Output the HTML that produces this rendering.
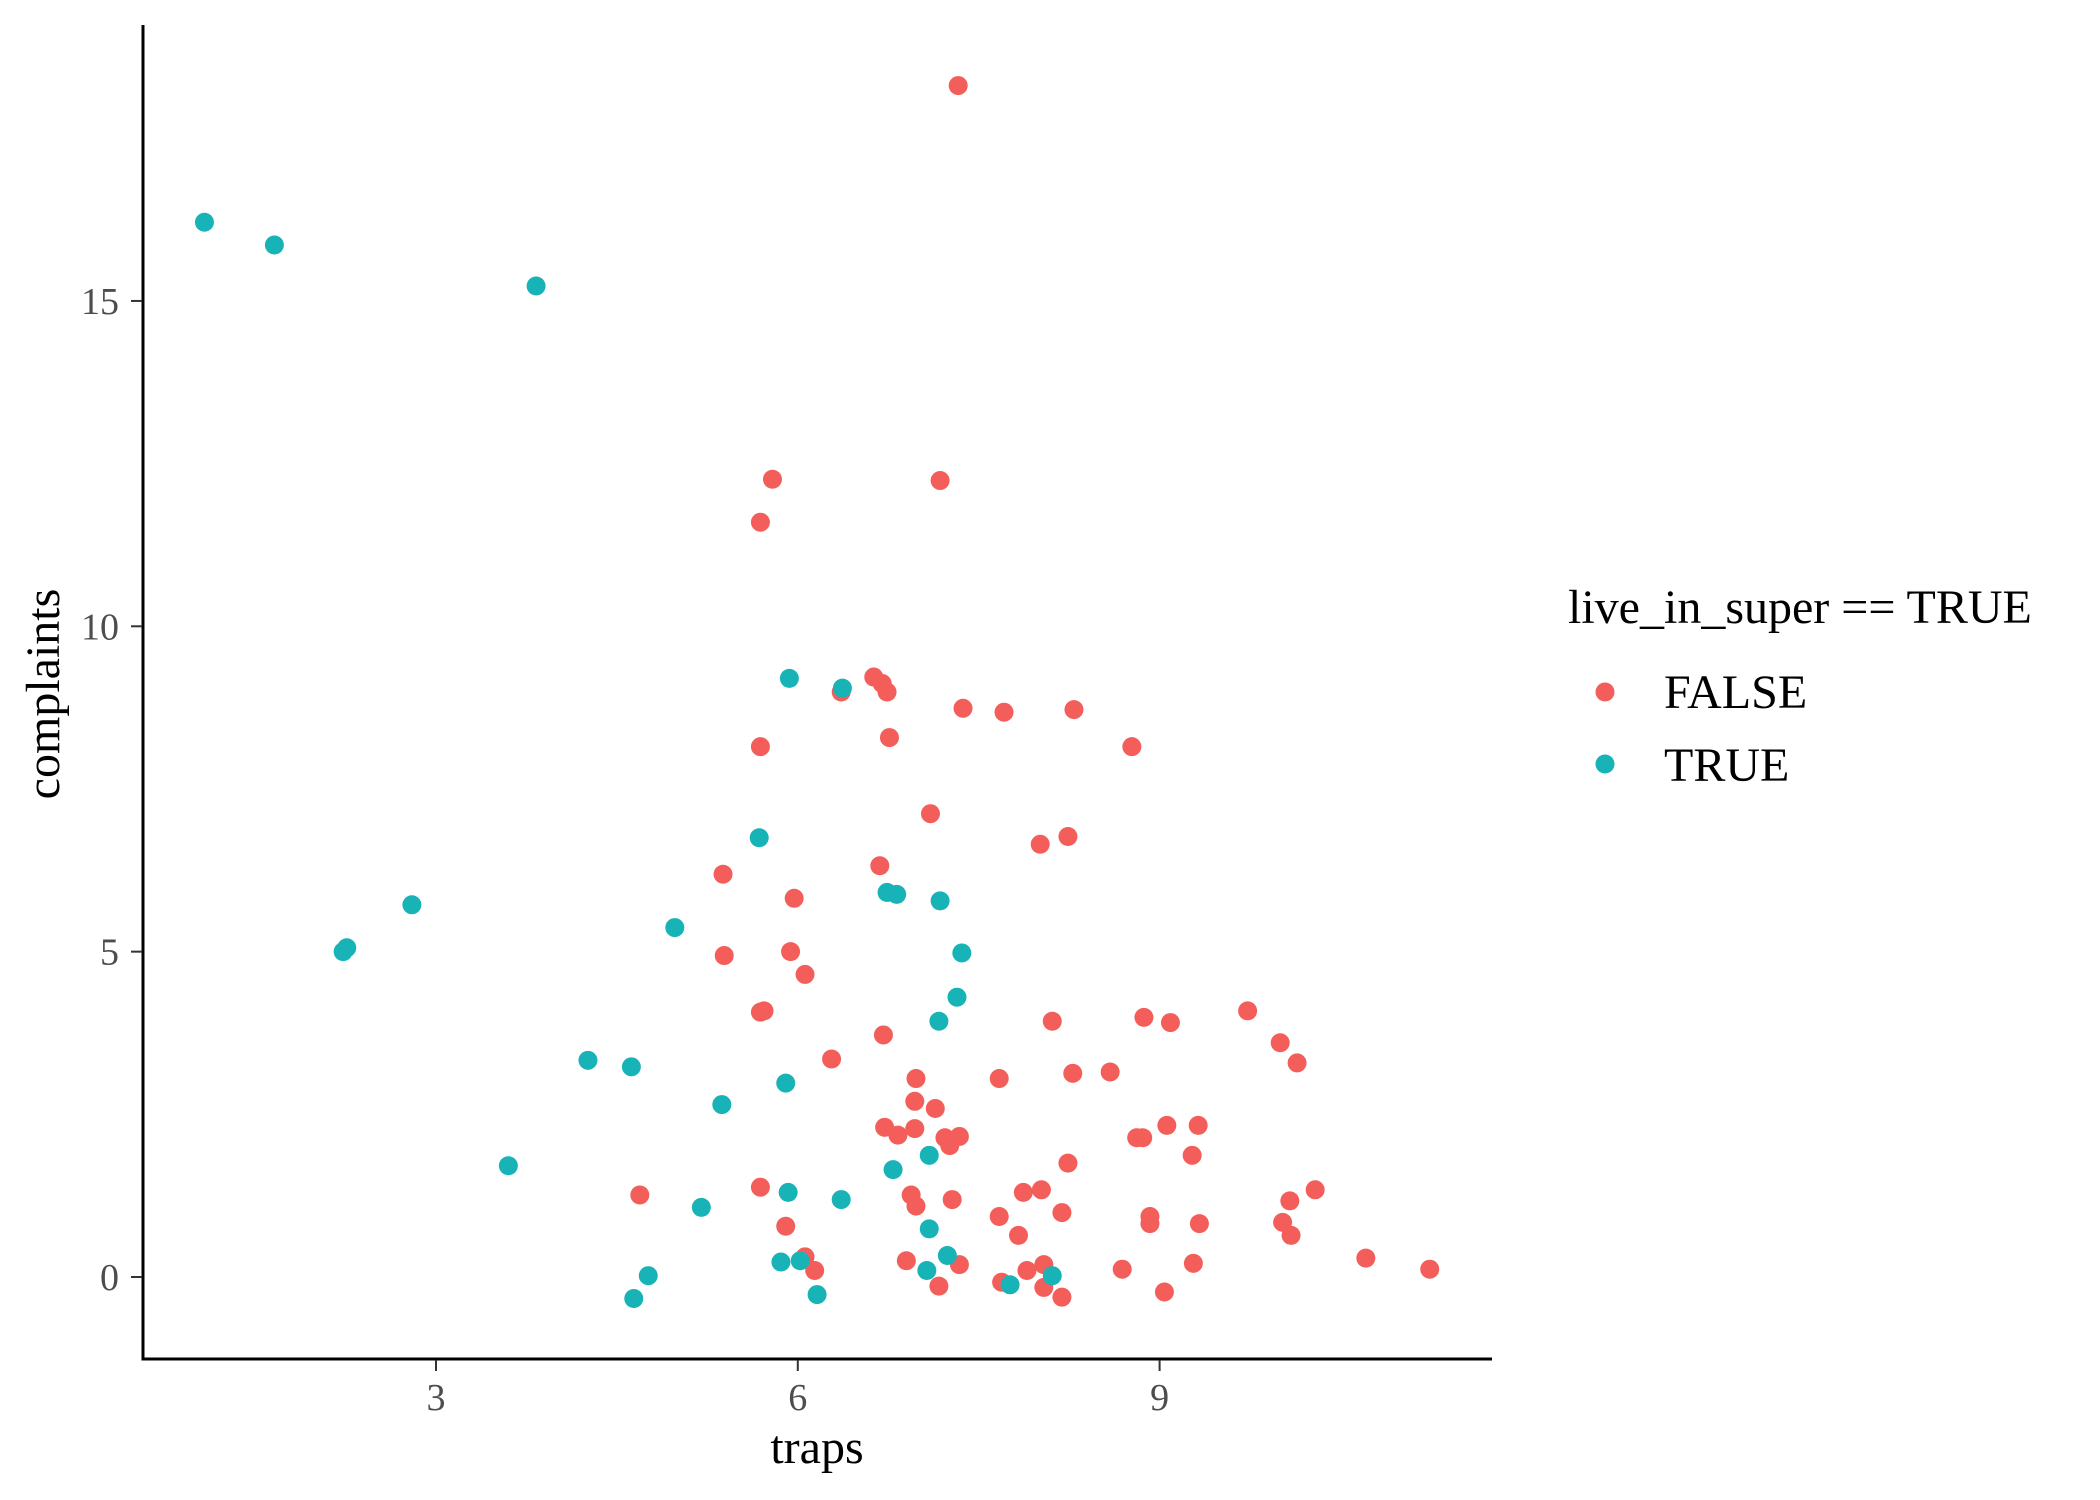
<!DOCTYPE html>
<html><head><meta charset="utf-8">
<style>
html,body{margin:0;padding:0;background:#fff;}
svg{display:block;font-family:"Liberation Serif",serif;}
</style></head>
<body>
<svg id="chart" width="2100" height="1500" viewBox="0 0 2100 1500" xmlns="http://www.w3.org/2000/svg">
<g id="points"></g>
<line x1="143" y1="25" x2="143" y2="1360" stroke="#000" stroke-width="3"/>
<line x1="141.5" y1="1359" x2="1492" y2="1359" stroke="#000" stroke-width="3"/>
<g id="xticks"></g>
<g id="yticks"></g>
<text x="817" y="1463" font-size="48" text-anchor="middle" fill="#000">traps</text>
<text x="0" y="0" font-size="48" text-anchor="middle" fill="#000" transform="translate(59,694) rotate(-90)">complaints</text>
<g>
<text x="1568" y="623" font-size="48" fill="#000">live_in_super == TRUE</text>
<circle cx="1605" cy="692" r="9.5" fill="#F35E5A"/>
<text x="1664" y="708" font-size="48" fill="#000">FALSE</text>
<circle cx="1605" cy="764" r="9.5" fill="#17B3B7"/>
<text x="1664" y="781" font-size="48" fill="#000">TRUE</text>
</g>
</svg>
<script>
const falseX = [7.33,5.79,7.18,5.69,6.63,6.70,6.74,6.36,7.37,7.71,8.29,8.77,5.69,6.76,7.10,8.01,8.24,6.68,5.38,5.97,5.94,5.39,6.06,5.69,5.72,8.87,9.09,9.73,10.00,10.14,8.11,6.71,6.28,7.67,8.28,8.59,6.98,6.97,7.14,6.72,6.97,6.83,8.86,8.81,9.06,9.32,7.22,7.26,7.34,9.27,8.24,4.69,5.69,6.94,6.98,7.28,7.87,8.02,10.29,10.08,8.19,7.67,5.90,7.83,8.92,8.92,9.33,10.02,10.09,6.06,6.14,6.90,7.34,7.90,8.04,8.69,9.28,10.71,11.24,7.69,8.04,7.17,8.19,9.04];
const falseY = [18.31,12.26,12.24,11.60,9.22,9.12,8.99,8.99,8.74,8.68,8.72,8.15,8.15,8.29,7.12,6.65,6.77,6.32,6.19,5.82,5.00,4.94,4.65,4.07,4.09,3.99,3.91,4.09,3.60,3.29,3.93,3.72,3.35,3.05,3.13,3.15,3.05,2.70,2.59,2.30,2.28,2.18,2.14,2.14,2.33,2.33,2.14,2.02,2.16,1.87,1.75,1.26,1.38,1.26,1.09,1.19,1.30,1.34,1.34,1.17,0.99,0.93,0.78,0.64,0.93,0.82,0.82,0.84,0.64,0.31,0.10,0.25,0.19,0.10,0.19,0.12,0.21,0.29,0.12,-0.08,-0.16,-0.14,-0.31,-0.23];
const trueX = [1.08,1.66,3.83,5.93,6.37,5.68,2.80,6.74,6.82,7.18,4.98,2.26,2.23,7.36,7.32,7.17,4.26,4.62,5.90,5.37,3.60,7.09,6.79,5.92,6.36,5.20,7.09,7.24,5.86,6.02,4.76,7.07,8.11,7.76,4.64,6.16];
const trueY = [16.21,15.86,15.23,9.20,9.05,6.75,5.72,5.91,5.88,5.78,5.37,5.06,5.00,4.98,4.30,3.93,3.33,3.23,2.98,2.65,1.71,1.87,1.65,1.30,1.19,1.07,0.74,0.33,0.23,0.25,0.02,0.10,0.02,-0.12,-0.33,-0.27];
const xTicks = [3,6,9];
const yTicks = [0,5,10,15];

const NS = "http://www.w3.org/2000/svg";
function sx(v){ return 436 + (v-3)*120.6; }
function sy(v){ return 1277 - v*65.07; }

const pg = document.getElementById('points');
function drawSeries(xs, ys, color, name){
  for (let i=0;i<xs.length;i++){
    const c = document.createElementNS(NS,'circle');
    c.setAttribute('cx', sx(xs[i]));
    c.setAttribute('cy', sy(ys[i]));
    c.setAttribute('r', 9.5);
    c.setAttribute('fill', color);
    
    
    pg.appendChild(c);
  }
}
drawSeries(falseX, falseY, '#F35E5A', 'point-false');
drawSeries(trueX, trueY, '#17B3B7', 'point-true');

const xg = document.getElementById('xticks');
xTicks.forEach(t=>{
  const l = document.createElementNS(NS,'line');
  l.setAttribute('x1', sx(t)); l.setAttribute('x2', sx(t));
  l.setAttribute('y1', 1360); l.setAttribute('y2', 1371);
  l.setAttribute('stroke', '#333'); l.setAttribute('stroke-width', 2);
  
  
  xg.appendChild(l);
  const tx = document.createElementNS(NS,'text');
  tx.setAttribute('x', sx(t)); tx.setAttribute('y', 1410);
  tx.setAttribute('font-size', 38); tx.setAttribute('fill', '#4d4d4d');
  tx.setAttribute('text-anchor', 'middle');
  tx.textContent = t;
  
  
  xg.appendChild(tx);
});
const yg = document.getElementById('yticks');
yTicks.forEach(t=>{
  const l = document.createElementNS(NS,'line');
  l.setAttribute('x1', 131); l.setAttribute('x2', 142);
  l.setAttribute('y1', sy(t)); l.setAttribute('y2', sy(t));
  l.setAttribute('stroke', '#333'); l.setAttribute('stroke-width', 2);
  
  
  yg.appendChild(l);
  const tx = document.createElementNS(NS,'text');
  tx.setAttribute('x', 119); tx.setAttribute('y', sy(t)+13);
  tx.setAttribute('font-size', 38); tx.setAttribute('fill', '#4d4d4d');
  tx.setAttribute('text-anchor', 'end');
  tx.textContent = t;
  
  
  yg.appendChild(tx);
});
</script>
</body></html>
